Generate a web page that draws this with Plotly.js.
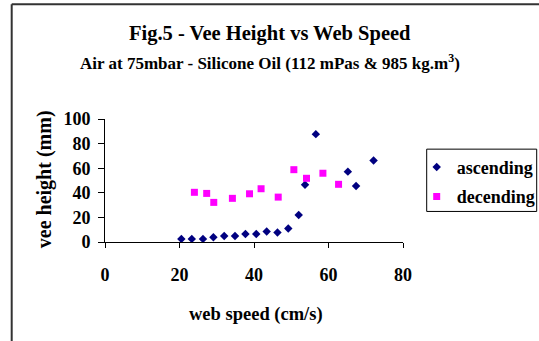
<!DOCTYPE html>
<html>
<head>
<meta charset="utf-8">
<script src="https://cdn.plot.ly/plotly-3.0.1.min.js"></script>
<style>html,body{margin:0;padding:0;background:#fff;}#chart{width:539px;height:341px;}</style>
</head>
<body>
<div id="chart"></div>
<script>
// Data
const ascendingSpeed = [20.5, 23.3, 26.3, 29.1, 32.0, 34.9, 37.7, 40.6, 43.4, 46.3, 49.2, 52.0, 53.7, 56.6, 65.2, 67.4, 72.1];
const ascendingHeight = [2.5, 2.5, 2.5, 3.8, 4.9, 4.9, 6.5, 6.5, 8.5, 7.7, 10.9, 22, 46.6, 87.7, 57.2, 45.5, 66.2];
const decendingSpeed = [24.0, 27.3, 29.2, 34.2, 38.8, 41.9, 46.5, 50.7, 54.1, 58.5, 62.7];
const decendingHeight = [40.4, 39.5, 32.2, 35.5, 39.2, 43.3, 36.5, 58.8, 51.8, 55.9, 46.9];
const xTicks = [0, 20, 40, 60, 80];
const yTicks = [0, 20, 40, 60, 80, 100];

const FONT = '"Liberation Serif", "Times New Roman", serif';

// plot area in pixels (for placing text)
const L = 105.3, R = 403.3, T = 119.3, B = 241.7;
const px2x = p => (p - L) / (R - L);
const px2y = p => (B - p) / (B - T);

const traces = [
  {x: ascendingSpeed, y: ascendingHeight, mode: 'markers', type: 'scatter', name: 'ascending',
   legendgroup: 'a',
   marker: {symbol: 'diamond', size: 6.5, color: '#000080'}},
  {x: decendingSpeed, y: decendingHeight, mode: 'markers', type: 'scatter', name: 'decending',
   legendgroup: 'd',
   marker: {symbol: 'square', size: 7, color: '#FF00FF'}}
];

const layout = {
  width: 539, height: 341, autosize: false,
  paper_bgcolor: '#fff', plot_bgcolor: '#fff',
  margin: {l: L, r: 539 - R, t: T, b: 341 - B, pad: 0, autoexpand: false},
  font: {family: FONT, color: '#000', size: 18, weight: 'bold'},
  showlegend: true,
  legend: {x: px2x(417), y: px2y(149), xanchor: 'left', yanchor: 'top',
           borderwidth: 0, bgcolor: 'rgba(0,0,0,0)',
           font: {family: FONT, size: 18, weight: 'bold', color: '#000'},
           traceorder: 'grouped', tracegroupgap: 3, itemwidth: 30},
  xaxis: {range: [0, 80], tickvals: xTicks, ticktext: xTicks.map(String), showgrid: false, zeroline: false,
          showline: true, linecolor: '#000', linewidth: 1, ticks: 'outside', ticklen: 5, tickcolor: '#000',
          ticklabelstandoff: 11, tickfont: {family: FONT, size: 18, weight: 'bold'}, fixedrange: true},
  yaxis: {range: [0, 100], tickvals: yTicks, ticktext: yTicks.map(String), showgrid: false, zeroline: false,
          showline: true, linecolor: '#000', linewidth: 1, ticks: 'outside', ticklen: 6, tickcolor: '#000',
          ticklabelstandoff: 4, tickfont: {family: FONT, size: 18, weight: 'bold'}, fixedrange: true},
  shapes: [
    {type: 'line', xref: 'paper', yref: 'paper', x0: px2x(12), x1: px2x(545), y0: px2y(5), y1: px2y(5),
     line: {color: '#333', width: 2}},
    {type: 'line', xref: 'paper', yref: 'paper', x0: px2x(12), x1: px2x(12), y0: px2y(5), y1: px2y(350),
     line: {color: '#333', width: 2}},
    {type: 'rect', xref: 'paper', yref: 'paper', x0: px2x(427), x1: px2x(537), y0: px2y(149.3), y1: px2y(211.3),
     line: {color: '#000', width: 1}, fillcolor: 'rgba(0,0,0,0)'}
  ],
  annotations: [
    {text: 'Fig.5 - Vee Height vs Web Speed', xref: 'paper', yref: 'paper', x: px2x(270), y: px2y(34),
     xanchor: 'center', yanchor: 'middle', showarrow: false,
     font: {family: FONT, size: 20.5, weight: 'bold', color: '#000'}},
    {text: 'Air at 75mbar - Silicone Oil (112 mPas &amp; 985 kg.m<sup>3</sup>)', xref: 'paper', yref: 'paper',
     x: px2x(270), y: px2y(63), xanchor: 'center', yanchor: 'middle', showarrow: false,
     font: {family: FONT, size: 17, weight: 'bold', color: '#000'}},
    {text: 'web speed (cm/s)', xref: 'paper', yref: 'paper', x: px2x(256), y: px2y(314),
     xanchor: 'center', yanchor: 'middle', showarrow: false,
     font: {family: FONT, size: 18.5, weight: 'bold', color: '#000'}},
    {text: 'vee height (mm)', xref: 'paper', yref: 'paper', x: px2x(45.5), y: px2y(179), textangle: -90,
     xanchor: 'center', yanchor: 'middle', showarrow: false,
     font: {family: FONT, size: 20, weight: 'bold', color: '#000'}}
  ]
};

Plotly.newPlot('chart', traces, layout, {displayModeBar: false, staticPlot: true});
</script>
</body>
</html>
